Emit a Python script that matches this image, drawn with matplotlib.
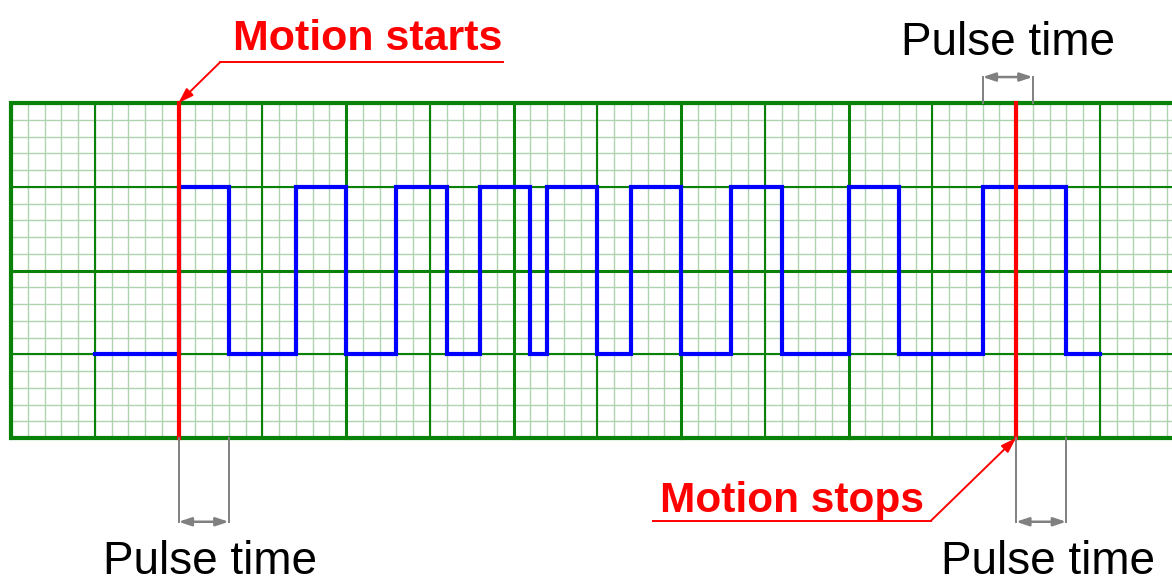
import numpy as np
import matplotlib.pyplot as plt

plt.rcParams['font.family'] = ['Liberation Sans', 'DejaVu Sans']

# chart-paper grid, in small-square units
grid_minor = 1
grid_medium = 5
grid_major = 10
paper_top = 20
paper_right = 70

# pulse train: switching instants (first edge rises), levels and span
signal_start = 5
signal_end = 65
level_low = 5
level_high = 15
edges = [10, 13, 17, 20, 23, 26, 28, 31, 32, 35, 37, 40, 43, 46, 50, 53, 58, 63]

motion_start = 10
motion_stop = 60

# pulse-time brackets: (left, right, side)
brackets = [(10, 13, 'below'), (60, 63, 'below'), (58, 61, 'above')]

UNIT = 16.75  # pixels per small square
W, H = 1172, 579
X0, Y0 = 11, 438  # pixel position of the paper's lower-left corner


def step_path(start, end, switch, low, high):
    xs, ys = [start], [low]
    level = low
    for s in switch:
        xs += [s, s]
        ys += [level, high if level == low else low]
        level = ys[-1]
    xs.append(end)
    ys.append(level)
    return xs, ys


fig = plt.figure(figsize=(W / 100, H / 100), dpi=100)
ax = fig.add_axes([0, 0, 1, 1])
ax.set_xlim(-X0 / UNIT, (W - X0) / UNIT)
ax.set_ylim((Y0 - H) / UNIT, Y0 / UNIT)
ax.axis('off')

green = '#0a820a'
light = '#aed3ae'

# minor grid
for u in np.arange(0, paper_right + 1, grid_minor):
    ax.plot([u, u], [0, paper_top], color=light, lw=1.0, zorder=1)
for v in np.arange(0, paper_top + 1, grid_minor):
    ax.plot([0, paper_right], [v, v], color=light, lw=1.0, zorder=1)

# medium and major grid
for u in np.arange(0, paper_right + 1, grid_medium):
    lw = 2.2 if u % grid_major == 0 else 1.5
    ax.plot([u, u], [0, paper_top], color=green, lw=lw, zorder=2)
for v in np.arange(0, paper_top + 1, grid_medium):
    lw = 2.2 if v % grid_major == 0 else 1.5
    ax.plot([0, paper_right], [v, v], color=green, lw=lw, zorder=2)

# paper border
ax.plot([paper_right, 0, 0, paper_right], [paper_top, paper_top, 0, 0],
        color=green, lw=3.0, zorder=3, solid_joinstyle='miter')

# signal trace
xs, ys = step_path(signal_start, signal_end, edges, level_low, level_high)
ax.plot(xs, ys, color='#0000ff', lw=3.0, zorder=4, solid_joinstyle='miter')

# motion markers
red = '#ff0000'
for m in (motion_start, motion_stop):
    ax.plot([m, m], [0, paper_top], color=red, lw=3.0, zorder=5)

red_head = '-|>,head_length=0.9,head_width=0.3'

# "Motion starts" label with underline leader
ax.text(21.3, 23.15, 'Motion starts', color=red, fontsize=31, fontweight='bold',
        ha='center', va='baseline')
ax.plot([12.5, 29.4], [22.45, 22.45], color=red, lw=1.4)
ax.annotate('', xy=(motion_start, paper_top), xytext=(12.5, 22.45),
            arrowprops=dict(arrowstyle=red_head, color=red, lw=1.4,
                            shrinkA=0, shrinkB=0))

# "Motion stops" label with underline leader
ax.text(46.6, -4.4, 'Motion stops', color=red, fontsize=30.5, fontweight='bold',
        ha='center', va='baseline')
ax.plot([38.3, 54.9], [-4.96, -4.96], color=red, lw=1.4)
ax.annotate('', xy=(motion_stop, 0), xytext=(54.9, -4.96),
            arrowprops=dict(arrowstyle=red_head, color=red, lw=1.4,
                            shrinkA=0, shrinkB=0))

# pulse-time brackets
gray = '#808080'
for left, right, side in brackets:
    if side == 'below':
        base, tip, label_y = 0, -5.0, -8.1
        label_x = (left + right) / 2 + 0.4
    else:
        base, tip, label_y = paper_top, 21.55, 22.85
        label_x = (left + right) / 2
    for u in (left, right):
        ax.plot([u, u], [base, tip], color=gray, lw=1.4, zorder=6)
    ax.annotate('', xy=(left, tip), xytext=(right, tip),
                arrowprops=dict(arrowstyle='<|-|>,head_length=0.75,head_width=0.25',
                                color=gray, lw=1.8, shrinkA=0, shrinkB=0))
    ax.text(label_x, label_y, 'Pulse time', color='black', fontsize=33,
            ha='center', va='baseline')

fig.savefig('out.png', dpi=100)
